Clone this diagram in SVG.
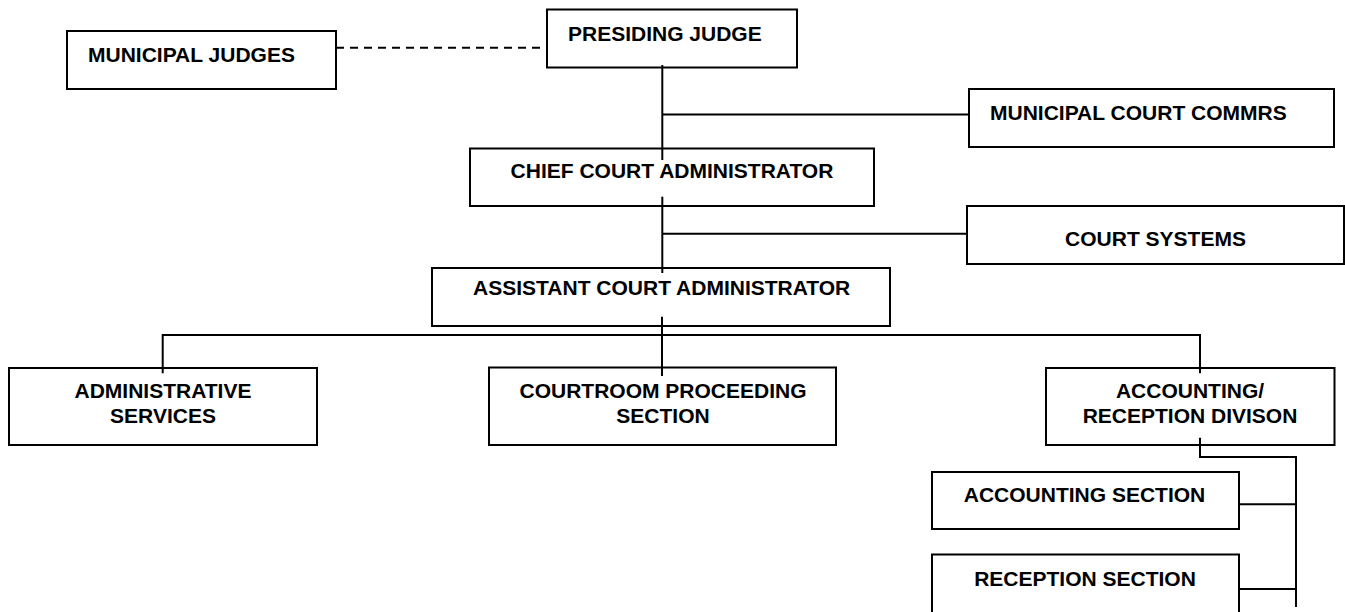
<svg xmlns="http://www.w3.org/2000/svg" width="1345" height="612" viewBox="0 0 1345 612">
<style>
.box{fill:#fff;stroke:#000;stroke-width:2}
.t{font-family:"Liberation Sans",Arial,sans-serif;font-weight:bold;font-size:21px;fill:#000}
.c{text-anchor:middle}
.ln{stroke:#000;stroke-width:2;fill:none}
.dash{stroke:#000;stroke-width:2;fill:none;stroke-dasharray:8,6}
</style>
<rect width="1345" height="612" fill="#fff"/>
<g id="n-municipal-judges"><rect class="box" x="67" y="31" width="269" height="58"/><text class="t" x="88" y="62">MUNICIPAL JUDGES</text></g>
<g id="n-presiding-judge"><rect class="box" x="547" y="9.5" width="250" height="58"/><text class="t" x="568" y="41">PRESIDING JUDGE</text></g>
<g id="n-municipal-court-commrs"><rect class="box" x="969" y="89" width="365" height="58"/><text class="t" x="990" y="120">MUNICIPAL COURT COMMRS</text></g>
<g id="n-chief-court-admin"><rect class="box" x="470" y="148.5" width="404" height="57.5"/><text class="t c" x="672" y="178.3">CHIEF COURT ADMINISTRATOR</text></g>
<g id="n-court-systems"><rect class="box" x="967" y="206" width="377" height="58"/><text class="t c" x="1155.5" y="245.7">COURT SYSTEMS</text></g>
<g id="n-assistant-court-admin"><rect class="box" x="432" y="268" width="458" height="58"/><text class="t c" x="661.7" y="295">ASSISTANT COURT ADMINISTRATOR</text></g>
<g id="n-admin-services"><rect class="box" x="9" y="368" width="308" height="77"/><text class="t c" x="163" y="398.3">ADMINISTRATIVE</text><text class="t c" x="163" y="423.3">SERVICES</text></g>
<g id="n-courtroom-proceeding"><rect class="box" x="489" y="367.5" width="347" height="77.5"/><text class="t c" x="663" y="398.3">COURTROOM PROCEEDING</text><text class="t c" x="663" y="423.3">SECTION</text></g>
<g id="n-accounting-reception"><rect class="box" x="1046" y="368" width="288.5" height="77"/><text class="t c" x="1190" y="398.3">ACCOUNTING/</text><text class="t c" x="1190" y="423.3">RECEPTION DIVISON</text></g>
<g id="n-accounting-section"><rect class="box" x="932" y="472" width="307" height="57"/><text class="t c" x="1084.5" y="502.3">ACCOUNTING SECTION</text></g>
<g id="n-reception-section"><rect class="box" x="932" y="554.5" width="307" height="60"/><text class="t c" x="1085" y="586">RECEPTION SECTION</text></g>
<g id="connectors">
<line class="dash" x1="336" y1="47.7" x2="547" y2="47.7"/>
<line class="ln" x1="662.3" y1="65" x2="662.3" y2="160"/>
<line class="ln" x1="662.3" y1="114.5" x2="969" y2="114.5"/>
<line class="ln" x1="662.3" y1="196.7" x2="662.3" y2="273"/>
<line class="ln" x1="662.3" y1="233.7" x2="967" y2="233.7"/>
<line class="ln" x1="662" y1="316.7" x2="662" y2="376"/>
<polyline class="ln" points="162.7,373.3 162.7,335 1200,335 1200,373.3"/>
<polyline class="ln" points="1200,437.7 1200,457 1296,457 1296,607"/>
<line class="ln" x1="1239" y1="504.3" x2="1296" y2="504.3"/>
<line class="ln" x1="1239" y1="589" x2="1296" y2="589"/>
</g>
</svg>
